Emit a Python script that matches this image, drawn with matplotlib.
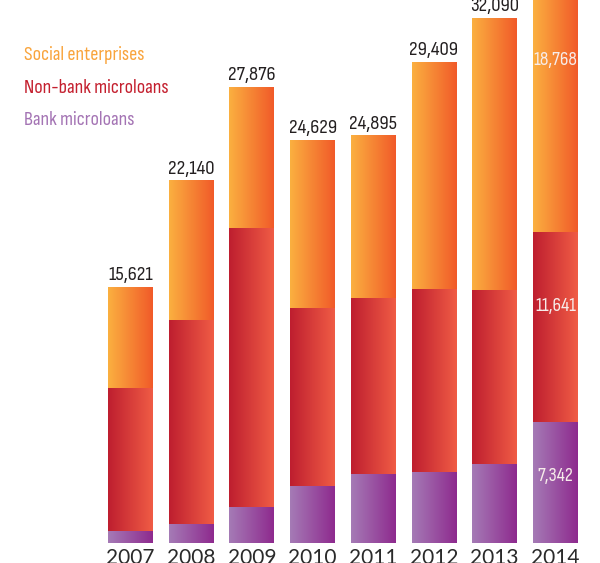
import numpy as np
import matplotlib
matplotlib.use("Agg")
import matplotlib.pyplot as plt
from matplotlib.colors import LinearSegmentedColormap

# ─── data ────────────────────────────────────────────────────────────────
years = ["2007", "2008", "2009", "2010", "2011", "2012", "2013", "2014"]
bank = [700, 1130, 2170, 3470, 4210, 4330, 4820, 7342]
nonbank = [8770, 12480, 17080, 10890, 10760, 11190, 10640, 11641]
social = [6151, 8530, 8626, 10269, 9925, 13889, 16630, 18768]

series_names = ["Bank microloans", "Non-bank microloans", "Social enterprises"]
# left -> right gradient for each series
grad = {
    "Bank microloans": ("#a57bb6", "#8e2a8e"),
    "Non-bank microloans": ("#be1e2f", "#f05c45"),
    "Social enterprises": ("#fbb040", "#f15a29"),
}
legend_col = {
    "Bank microloans": "#a474b4",
    "Non-bank microloans": "#c4202f",
    "Social enterprises": "#f9a43c",
}

NARROW = ["Sofia Sans Condensed", "DejaVu Sans"]
YEAR_FONT = ["Lato", "DejaVu Sans"]

fig = plt.figure(figsize=(6.0, 5.63), dpi=100)
ax = fig.add_axes([0, 0.0364, 1, 0.9636])

x = np.arange(len(years))
width = 0.74
bottom = np.zeros(len(years))
ramp = np.linspace(0, 1, 256).reshape(1, -1)

for name, vals in zip(series_names, [bank, nonbank, social]):
    vals = np.array(vals, dtype=float)
    bars = ax.bar(x, vals, width, bottom=bottom, color=grad[name][1],
                  linewidth=0, zorder=1)
    cmap = LinearSegmentedColormap.from_list(name, grad[name])
    for patch in bars:
        x0, y0 = patch.get_x(), patch.get_y()
        im = ax.imshow(ramp, cmap=cmap, aspect="auto", zorder=2,
                       extent=(x0, x0 + patch.get_width(), y0, y0 + patch.get_height()))
        im.set_clip_path(patch)
    bottom = bottom + vals

totals = bottom
for xi, t in zip(x[:-1], totals[:-1]):
    ax.annotate(f"{int(t):,}", (xi, t), xytext=(0, 2), textcoords="offset points",
                ha="center", va="bottom", fontsize=15, color="#231f20",
                family=NARROW)

# values written inside the last bar
last = len(years) - 1
cum = 0
for vals, frac in zip([bank, nonbank, social], [0.55, 0.61, 0.56]):
    v = vals[last]
    ax.text(x[last], cum + v * frac, f"{v:,}", ha="center", va="center",
            fontsize=14, color="#f7ecea", family=NARROW, zorder=3)
    cum += v

# legend as coloured text
for i, name in enumerate(series_names[::-1]):
    fig.text(0.04, 0.902 - i * 0.058, name, ha="left", va="center",
             fontsize=14.5, color=legend_col[name], family=NARROW)

ax.set_xlim(-2.15, 7.735)
ax.set_ylim(0, 33170)
ax.set_xticks(x, years)
ax.set_yticks([])
ax.tick_params(axis="x", length=0, pad=4, labelsize=15, labelcolor="#2a2a2a")
for lab in ax.get_xticklabels():
    lab.set_family(YEAR_FONT)
for s in ax.spines.values():
    s.set_visible(False)

fig.savefig("out.png", dpi=100)
